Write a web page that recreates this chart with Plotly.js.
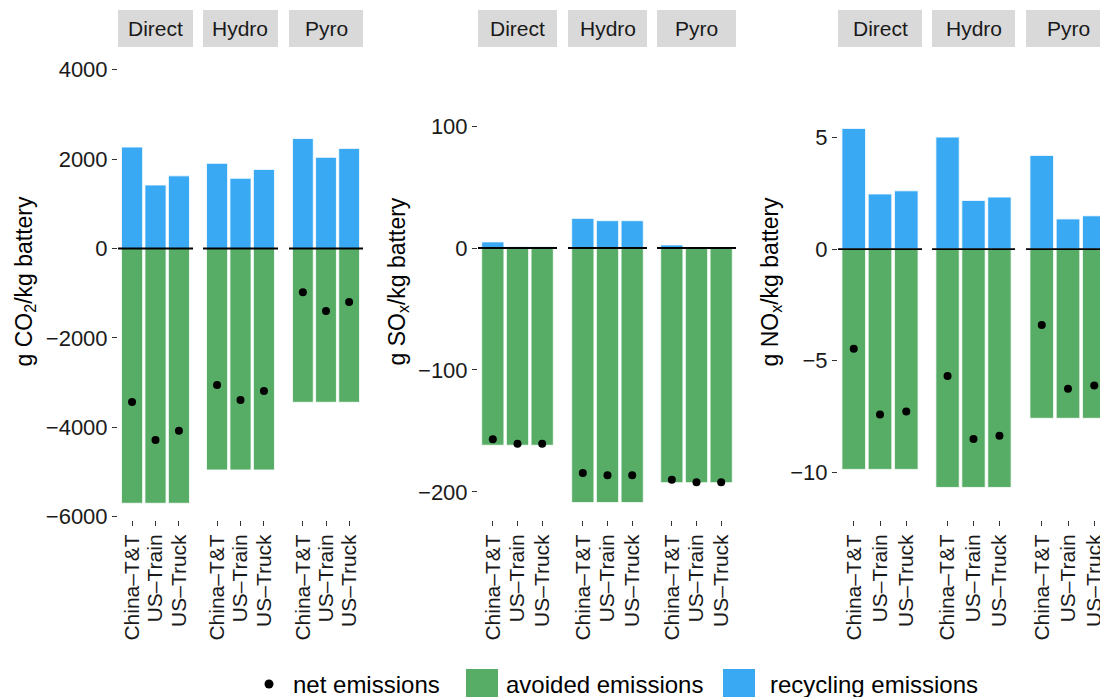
<!DOCTYPE html>
<html>
<head>
<meta charset="utf-8">
<script src="https://cdn.plot.ly/plotly-3.0.1.min.js"></script>
<style>
html, body { margin: 0; padding: 0; overflow: hidden; background: #fff; }
#chart { width: 1120px; height: 697px; }
</style>
</head>
<body>
<div id="chart"></div>
<script>
// ---------------- data ----------------
const categories = ['China–T&T', 'US–Train', 'US–Truck'];
const methods = ['Direct', 'Hydro', 'Pyro'];
const pollutants = ['CO2', 'SOx', 'NOx'];
const yTitles = ['g CO<sub>2</sub>/kg battery', 'g SO<sub>x</sub>/kg battery', 'g NO<sub>x</sub>/kg battery'];

// rows: Direct, Hydro, Pyro ; columns: China–T&T, US–Train, US–Truck
const co2Recycling = [[2270, 1420, 1625], [1905, 1570, 1770], [2460, 2040, 2240]];
const co2Avoided   = [[-5700, -5700, -5700], [-4955, -4955, -4955], [-3440, -3440, -3440]];
const co2Net       = [[-3435, -4282, -4077], [-3051, -3390, -3186], [-978, -1400, -1197]];

const soxRecycling = [[5.0, 1.2, 1.2], [24.3, 22.4, 22.4], [2.5, 0.3, 0.3]];
const soxAvoided   = [[-161.7, -161.7, -161.7], [-208.7, -208.7, -208.7], [-192.4, -192.4, -192.4]];
const soxNet       = [[-156.7, -160.5, -160.5], [-184.4, -186.3, -186.3], [-189.9, -192.1, -192.1]];

const noxRecycling = [[5.41, 2.47, 2.61], [5.02, 2.18, 2.33], [4.20, 1.35, 1.49]];
const noxAvoided   = [[-9.88, -9.88, -9.88], [-10.69, -10.69, -10.69], [-7.59, -7.59, -7.59]];
const noxNet       = [[-4.47, -7.42, -7.28], [-5.69, -8.52, -8.37], [-3.41, -6.27, -6.12]];

const co2TickVals = [-6000, -4000, -2000, 0, 2000, 4000];
const co2TickText = ['−6000', '−4000', '−2000', '0', '2000', '4000'];
const soxTickVals = [-200, -100, 0, 100];
const soxTickText = ['−200', '−100', '0', '100'];
const noxTickVals = [-10, -5, 0, 5];
const noxTickText = ['−10', '−5', '0', '5'];

const legendLabels = ['net emissions', 'avoided emissions', 'recycling emissions'];

// ---------------- styling / layout ----------------
const W = 1120, H = 697;
const FONT = 'Liberation Sans, Arial, Helvetica, sans-serif';
const GREEN = '#57ad65';
const BLUE = '#39a9f4';
const TXT = '#1a1a1a';

const recycling = [co2Recycling, soxRecycling, noxRecycling];
const avoided = [co2Avoided, soxAvoided, noxAvoided];
const net = [co2Net, soxNet, noxNet];
const tickVals = [co2TickVals, soxTickVals, noxTickVals];
const tickText = [co2TickText, soxTickText, noxTickText];
const yRanges = [[-6074, 4508], [-223, 164.8], [-12.15, 9.06]];

// facet pixel extents
const facetX = [
  [[118, 193], [203, 278], [289, 363]],
  [[478, 557], [568, 647], [657, 736]],
  [[838, 922], [932, 1015], [1026, 1110]]
];
const yTitleX = [25, 398, 771];
const plotTop = 47, plotBottom = 520;
const stripTop = 10;
const yDom = [1 - plotBottom / H, 1 - plotTop / H];
const py = v => 1 - v / H;
const px = v => v / W;

const data = [];
const layout = {
  width: W, height: H,
  margin: {l: 0, r: 0, t: 0, b: 0, pad: 0},
  paper_bgcolor: '#fff', plot_bgcolor: '#fff',
  barmode: 'relative',
  showlegend: false,
  font: {family: FONT, color: TXT},
  shapes: [], annotations: []
};

for (let p = 0; p < 3; p++) {
  for (let m = 0; m < 3; m++) {
    const i = p * 3 + m + 1;
    const sfx = i > 1 ? String(i) : '';
    const xa = 'x' + sfx;
    const ya = 'y' + sfx;
    data.push({
      type: 'bar', x: categories, y: avoided[p][m], xaxis: xa, yaxis: ya,
      width: 0.9, marker: {color: GREEN, line: {color: '#ffffff', width: 0.8}},
      name: legendLabels[1], hoverinfo: 'y'
    });
    data.push({
      type: 'bar', x: categories, y: recycling[p][m], xaxis: xa, yaxis: ya,
      width: 0.9, marker: {color: BLUE, line: {color: '#ffffff', width: 0.8}},
      name: legendLabels[2], hoverinfo: 'y'
    });
    data.push({
      type: 'scatter', mode: 'markers', x: categories, y: net[p][m], xaxis: xa, yaxis: ya,
      marker: {color: '#000', size: 8}, name: legendLabels[0], hoverinfo: 'y'
    });
    const fx = facetX[p][m];
    layout['xaxis' + sfx] = {
      domain: [px(fx[0]), px(fx[1])], anchor: ya,
      type: 'category', categoryorder: 'array', categoryarray: categories,
      tickmode: 'array', tickvals: categories, ticktext: categories,
      range: [-0.6, 2.6], fixedrange: true,
      showgrid: false, showline: false, zeroline: false,
      ticks: 'outside', ticklen: 5, tickwidth: 1, tickcolor: '#333',
      tickangle: -90, tickfont: {family: FONT, size: 21, color: TXT}
    };
    layout['yaxis' + sfx] = {
      domain: yDom, anchor: xa, range: yRanges[p], fixedrange: true,
      tickmode: 'array', tickvals: tickVals[p], ticktext: tickText[p],
      showticklabels: m === 0, ticks: m === 0 ? 'outside' : '',
      ticklen: 5, tickwidth: 1, tickcolor: '#333',
      tickfont: {family: FONT, size: 22, color: TXT},
      showgrid: false, showline: false, zeroline: false
    };
    // zero reference line drawn above the bars
    layout.shapes.push({
      type: 'line', xref: xa + ' domain', yref: ya,
      x0: 0, x1: 1, y0: 0, y1: 0,
      line: {color: '#000', width: 1.8}, layer: 'above'
    });
    // strip
    layout.shapes.push({
      type: 'rect', xref: 'paper', yref: 'paper',
      x0: px(fx[0]), x1: px(fx[1]), y0: py(plotTop), y1: py(stripTop),
      fillcolor: '#d9d9d9', line: {width: 0}, layer: 'below'
    });
    layout.annotations.push({
      xref: 'paper', yref: 'paper', x: px((fx[0] + fx[1]) / 2), y: py((plotTop + stripTop) / 2),
      xanchor: 'center', yanchor: 'middle', showarrow: false,
      text: methods[m], font: {family: FONT, size: 21, color: TXT}
    });
  }
  // y axis title
  layout.annotations.push({
    xref: 'paper', yref: 'paper', x: px(yTitleX[p]), y: py((plotTop + plotBottom) / 2 - 2),
    xanchor: 'center', yanchor: 'middle', showarrow: false, textangle: -90,
    text: yTitles[p], font: {family: FONT, size: 23, color: '#000'}
  });
}

// ---------------- legend (drawn manually) ----------------
const legY = 684;
layout.shapes.push({
  type: 'circle', xref: 'paper', yref: 'paper',
  x0: px(269 - 4.5), x1: px(269 + 4.5), y0: py(legY + 4.5), y1: py(legY - 4.5),
  fillcolor: '#000', line: {width: 0}
});
layout.shapes.push({
  type: 'rect', xref: 'paper', yref: 'paper',
  x0: px(466), x1: px(498), y0: py(701), y1: py(669),
  fillcolor: GREEN, line: {width: 0}
});
layout.shapes.push({
  type: 'rect', xref: 'paper', yref: 'paper',
  x0: px(723), x1: px(755), y0: py(701), y1: py(669),
  fillcolor: BLUE, line: {width: 0}
});
[[291, legendLabels[0]], [504, legendLabels[1]], [768, legendLabels[2]]].forEach(([x, t]) => {
  layout.annotations.push({
    xref: 'paper', yref: 'paper', x: px(x), y: py(legY),
    xanchor: 'left', yanchor: 'middle', showarrow: false,
    text: t, font: {family: FONT, size: 24, color: '#000'}
  });
});

Plotly.newPlot('chart', data, layout, {displayModeBar: false, staticPlot: true});
</script>
</body>
</html>
